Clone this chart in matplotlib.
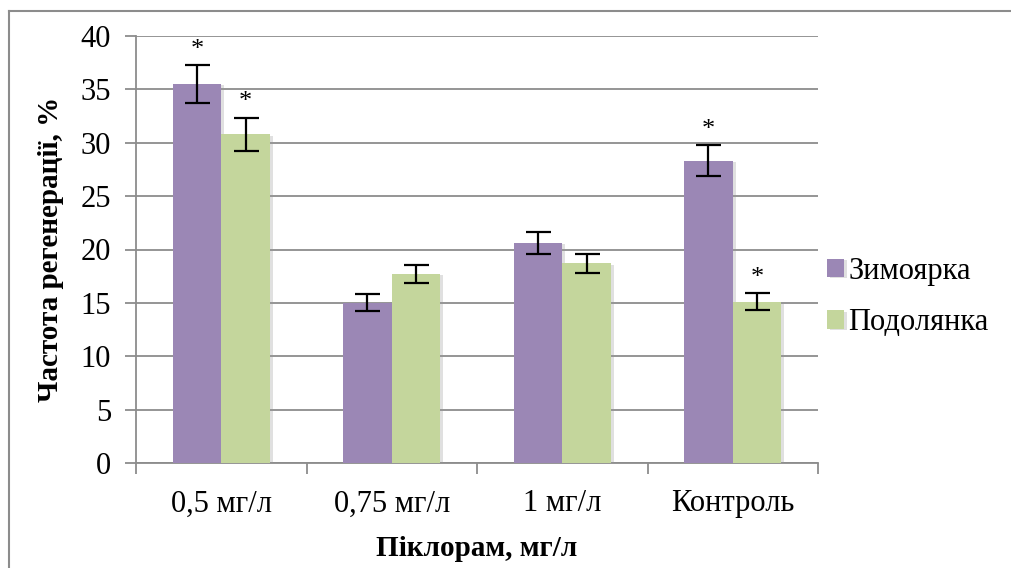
import numpy as np
import matplotlib.pyplot as plt
import matplotlib.patheffects as pe
from matplotlib.lines import Line2D

plt.rcParams['font.family'] = 'serif'
plt.rcParams['font.serif'] = ['Liberation Serif', 'DejaVu Serif']

# Regeneration frequency by picloram concentration
categories = ["0,5 мг/л", "0,75 мг/л", "1 мг/л", "Контроль"]
series_names = ["Зимоярка", "Подолянка"]
zymoyarka = [35.5, 15.0, 20.6, 28.3]
zymoyarka_err = [1.8, 0.8, 1.0, 1.45]
podolyanka = [30.8, 17.7, 18.7, 15.1]
podolyanka_err = [1.55, 0.85, 0.9, 0.8]
# significance marks (True = asterisk above bar)
zymoyarka_sig = [True, False, False, True]
podolyanka_sig = [True, False, False, True]

colors = ["#9B87B5", "#C4D69C"]
grid_col = "#8c8c8c"

fig = plt.figure(figsize=(10.11, 5.68), dpi=100)
ax = fig.add_axes([136/1011, 105/568, 682/1011, 427/568])

x = np.arange(len(categories))
w = 0.285
shadow = [pe.SimplePatchShadow(offset=(2, -1), shadow_rgbFace="#999999", alpha=0.3), pe.Normal()]

for i, (vals, errs, sig) in enumerate([(zymoyarka, zymoyarka_err, zymoyarka_sig),
                                        (podolyanka, podolyanka_err, podolyanka_sig)]):
    pos = x + (i - 0.5) * w
    bars = ax.bar(pos, vals, w, color=colors[i], label=series_names[i], zorder=3)
    for b in bars:
        b.set_path_effects(shadow)
    ax.errorbar(pos, vals, yerr=errs, fmt='none', ecolor='black',
                elinewidth=1.6, capsize=9, capthick=1.6, zorder=4)
    for p, v, e, s in zip(pos, vals, errs, sig):
        if s:
            ax.annotate("*", (p, v + e), xytext=(0, 3), textcoords='offset points',
                        ha='center', va='bottom', fontsize=19, zorder=5)

ax.set_xlim(-0.5, 3.5)
ax.set_ylim(0, 40)
ax.set_yticks(range(0, 41, 5))
ax.set_xticks(x)
ax.set_xticklabels(categories)
ax.set_xticks(np.arange(-0.5, 4, 1), minor=True)

ax.grid(axis='y', color=grid_col, linewidth=1.3, zorder=0)
ax.set_axisbelow(True)
for side in ['top', 'right']:
    ax.spines[side].set_visible(False)
for side in ['left', 'bottom']:
    ax.spines[side].set_color(grid_col)
    ax.spines[side].set_linewidth(1.3)

ax.tick_params(axis='y', direction='out', length=8, width=1.3, color=grid_col,
               labelsize=22, pad=10)
ax.tick_params(axis='x', which='major', length=0, labelsize=22, pad=19)
ax.tick_params(axis='x', which='minor', direction='out', length=8, width=1.3, color=grid_col)

ax.set_ylabel("Частота регенерації, %", fontsize=21, fontweight='bold', labelpad=12)
ax.set_xlabel("Піклорам, мг/л", fontsize=21, fontweight='bold', labelpad=12)

ax.legend(loc='center left', bbox_to_anchor=(815/1011, 271/568),
          bbox_transform=fig.transFigure, frameon=False, fontsize=22,
          handlelength=0.55, handleheight=0.55, handletextpad=0.15,
          labelspacing=0.75, borderaxespad=0)

# chart area frame: top and left edges
fig.add_artist(Line2D([8.5/1011, 1], [1 - 10.5/568, 1 - 10.5/568], transform=fig.transFigure,
                      color=grid_col, linewidth=1.5))
fig.add_artist(Line2D([8.5/1011, 8.5/1011], [0, 1 - 10.5/568], transform=fig.transFigure,
                      color=grid_col, linewidth=1.5))

fig.savefig("out.png", dpi=100)
